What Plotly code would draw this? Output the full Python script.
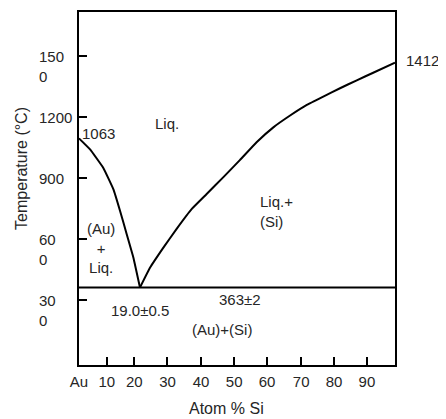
import plotly.graph_objects as go

# Liquidus, Au-rich side (atom % Si, temperature °C)
left_x = [0.0, 3.5, 7.7, 10.9, 13.0, 15.1, 17.2, 19.3]
left_t = [1095, 1041, 950, 845, 739, 625, 511, 363]

# Liquidus, Si-rich side
right_x = [19.3, 22.5, 26.7, 30.9, 35.7, 40.4, 45.7, 50.9, 56.2, 61.5,
           66.8, 72.1, 77.3, 82.6, 87.9, 93.1, 100.0]
right_t = [363, 461, 559, 651, 749, 822, 905, 988, 1076, 1149,
           1207, 1259, 1300, 1341, 1380, 1417, 1466]

# Eutectic isotherm
eut_x = [0, 100]
eut_t = [363, 363]

# Axis ticks
x_tick_pos = [0, 8.8, 17.5, 28.0, 38.6, 49.1, 59.5, 70.3, 80.7, 91.1]
x_tick_text = ["Au", "10", "20", "30", "40", "50", "60", "70", "80", "90"]
y_tick_vals = [300, 600, 900, 1200, 1500]
y_tick_text = ["30<br>0", "60<br>0", "900", "1200", "150<br>0"]

FONT = "Liberation Sans, Arial, sans-serif"
TXT = "#262626"

fig = go.Figure()
line = dict(color="black", width=2)
fig.add_trace(go.Scatter(x=left_x, y=left_t, mode="lines", line=dict(line, shape="spline", smoothing=0.3), hoverinfo="skip"))
fig.add_trace(go.Scatter(x=right_x, y=right_t, mode="lines", line=dict(line, shape="spline", smoothing=0.3), hoverinfo="skip"))
fig.add_trace(go.Scatter(x=eut_x, y=eut_t, mode="lines", line=line, hoverinfo="skip"))

fig.update_xaxes(range=[0, 100], showgrid=False, zeroline=False,
                 showline=True, linecolor="black", linewidth=2, mirror=True,
                 ticks="inside", ticklen=8, tickwidth=2, tickcolor="black",
                 tickvals=x_tick_pos, ticktext=x_tick_text,
                 tickfont=dict(family=FONT, size=15, color=TXT),
                 ticklabelstandoff=2)
fig.update_yaxes(range=[-17, 1715], showgrid=False, zeroline=False,
                 showline=True, linecolor="black", linewidth=2, mirror=True,
                 ticks="inside", ticklen=8, tickwidth=2, tickcolor="black",
                 tickvals=y_tick_vals, showticklabels=False)

ann = []
# y tick labels (left aligned, first line at tick)
for v, t in zip(y_tick_vals, y_tick_text):
    ann.append(dict(x=-0.133, xref="paper", y=v, yref="y", text=t, showarrow=False,
                    xanchor="left", yanchor="top", align="left", yshift=10,
                    font=dict(family=FONT, size=15, color=TXT)))

labels = [
    (0, 1121, "1063", "left", "left", 1),
    (100, 1476, "1412", "left", "left", 9),
    (23.4, 1170, "Liq.", "left", "left", 0),
    (56.6, 737, "Liq.+<br>(Si)", "left", "left", 0),
    (6.9, 557, "(Au)<br>+<br>Liq.", "center", "center", 0),
    (19.3, 251, "19.0±0.5", "center", "center", 0),
    (51.1, 303, "363±2", "center", "center", 0),
    (45.2, 157, "(Au)+(Si)", "center", "center", 0),
]
for x, y, t, xa, al, xs in labels:
    ann.append(dict(x=x, y=y, xref="x", yref="y", text=t, showarrow=False,
                    xanchor=xa, align=al, yanchor="middle", xshift=xs,
                    font=dict(family=FONT, size=15, color=TXT)))

ann.append(dict(x=0.467, y=-0.124, xref="paper", yref="paper", text="Atom % Si",
                showarrow=False, xanchor="center", yanchor="middle",
                font=dict(family=FONT, size=16, color=TXT)))
ann.append(dict(x=-0.184, y=0.558, xref="paper", yref="paper", text="Temperature (°C)",
                showarrow=False, xanchor="center", yanchor="middle", textangle=-90,
                font=dict(family=FONT, size=16, color=TXT)))

# page body adds an 8 px margin, so the figure is 8 px smaller and shifted
fig.update_layout(width=438, height=411, margin=dict(l=71, r=51, t=2, b=54),
                  paper_bgcolor="white", plot_bgcolor="white", showlegend=False,
                  annotations=ann)

fig.write_html("out.html", config={"displayModeBar": False})
